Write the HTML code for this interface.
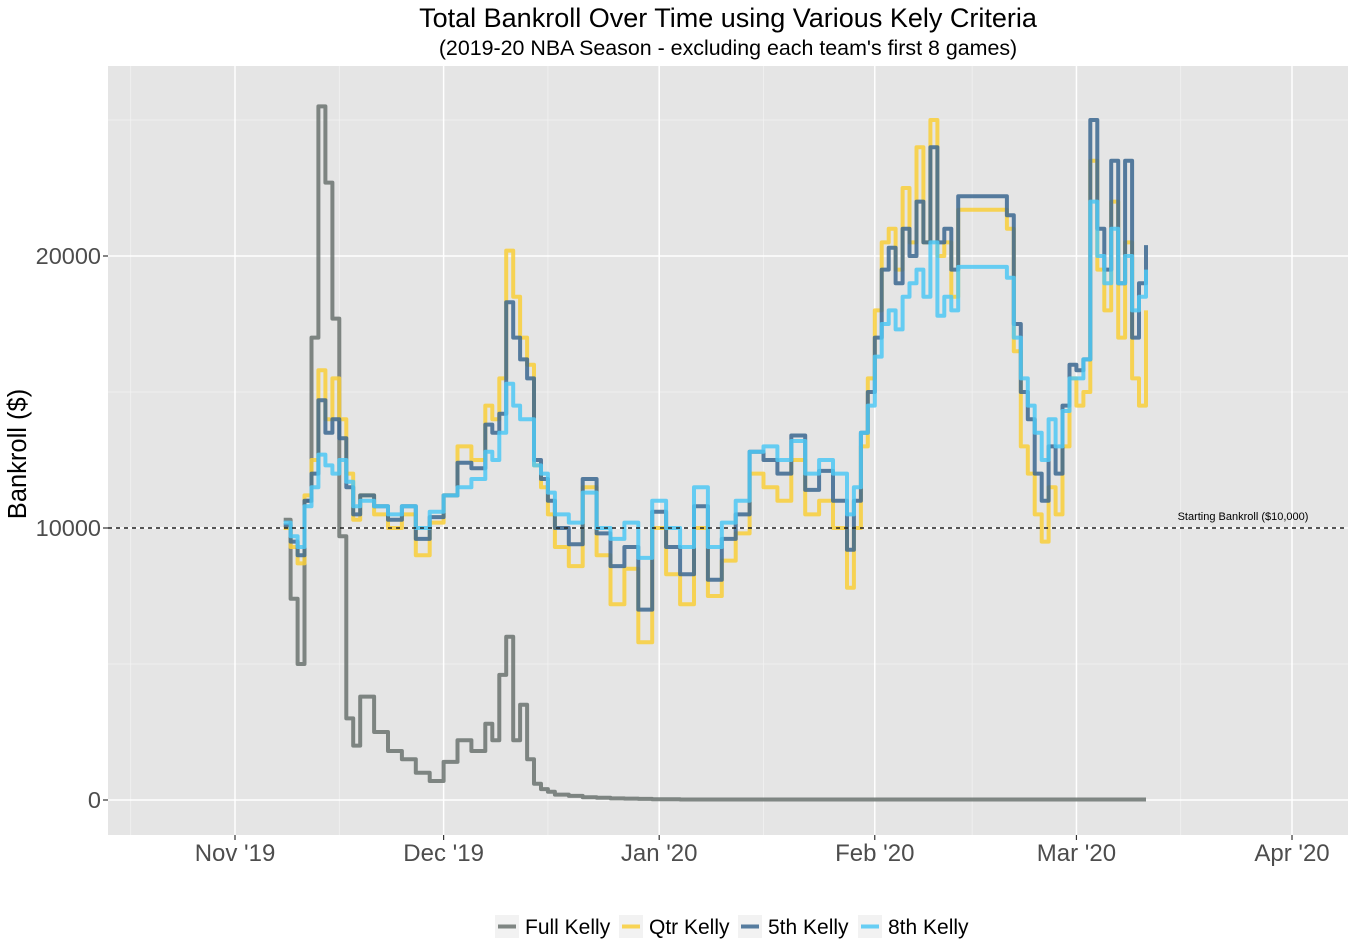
<!DOCTYPE html>
<html><head><meta charset="utf-8">
<style>
html,body{margin:0;padding:0;background:#fff;}
svg{display:block;font-family:"Liberation Sans",Arial,sans-serif;}
</style></head>
<body>
<svg id="chart" width="1356" height="952" viewBox="0 0 1356 952">
  <text x="728" y="27" text-anchor="middle" font-size="27" fill="#000">Total Bankroll Over Time using Various Kely Criteria</text>
  <text x="728" y="55" text-anchor="middle" font-size="21.4" fill="#000">(2019-20 NBA Season - excluding each team's first 8 games)</text>
  <rect x="108" y="66" width="1240" height="769" fill="#e5e5e5"/>
  <g id="grid"></g>
  <g id="series"></g>
  <line x1="108" x2="1348" y1="528" y2="528" stroke="#222" stroke-width="1.4" stroke-dasharray="4,4"/>
  <text x="1243" y="520" text-anchor="middle" font-size="11" fill="#000">Starting Bankroll ($10,000)</text>
  <g id="axes"></g>
  <text transform="translate(26,454) rotate(-90)" text-anchor="middle" font-size="25.5" fill="#000">Bankroll ($)</text>
  <g id="legend"></g>
</svg>
<script>
const days = [7,8,9,10,11,12,13,14,15,16,17,18,
20,22,24,26,28,30,32,34,36,
37,38,39,40,41,42,43,44,45,46,
48,50,52,54,56,58,60,62,64,66,68,70,72,74,76,78,80,82,84,86,88,
89,90,91,92,93,94,95,96,97,98,99,100,101,102,103,104,
111,112,113,114,115,116,117,118,119,120,121,122,123,124,125,126,127,128,129,130,131];
const fullKelly = [10.3,7.4,5.0,11.0,17.0,25.5,22.7,17.7,9.7,3.0,2.0,3.8,
2.5,1.8,1.5,1.0,0.7,1.4,2.2,1.8,2.8,
2.2,4.6,6.0,2.2,3.5,1.5,0.6,0.4,0.3,0.2,
0.15,0.1,0.08,0.06,0.05,0.04,0.03,0.03,0.02,0.02,0.02,0.02,0.02,0.02,0.02,0.02,0.02,0.02,0.02,0.02,0.02,
0.02,0.02,0.02,0.02,0.02,0.02,0.02,0.02,0.02,0.02,0.02,0.02,0.02,0.02,0.02,0.02,
0.02,0.02,0.02,0.02,0.02,0.02,0.02,0.02,0.02,0.02,0.02,0.02,0.02,0.02,0.02,0.02,0.02,0.02,0.02,0.02,0.02];
const qtrKelly = [10.0,9.3,8.7,11.2,12.5,15.8,14.0,15.5,14.0,12.0,10.3,11.2,
10.5,10.0,10.5,9.0,10.2,11.2,13.0,12.5,14.5,
14.0,15.5,20.2,18.5,17.0,16.0,12.3,11.5,10.5,9.3,
8.6,11.5,9.0,7.2,8.5,5.8,10.0,8.3,7.2,10.0,7.5,8.8,9.8,12.0,11.5,11.0,12.5,10.5,11.0,10.0,7.8,
10.0,13.0,15.5,18.0,20.5,21.0,19.5,22.5,20.5,24.0,20.5,25.0,20.0,20.5,18.5,21.7,
21.0,16.5,13.0,12.0,10.5,9.5,11.5,10.5,13.0,15.5,14.5,15.0,23.5,19.5,18.0,22.0,17.0,20.5,15.5,14.5,18.0];
const fifthKelly = [10.1,9.5,9.0,11.0,12.0,14.7,13.5,14.0,13.3,11.5,10.5,11.2,
10.8,10.3,10.8,9.6,10.4,11.2,12.4,12.2,13.8,
13.5,14.2,18.3,17.0,16.2,15.5,12.5,11.8,11.0,10.0,
9.4,11.8,9.8,8.6,9.3,7.0,10.6,9.3,8.3,10.8,8.1,9.6,10.5,12.8,12.5,12.0,13.4,11.4,12.1,11.0,9.2,
11.0,13.5,15.0,17.0,19.5,20.3,19.0,21.0,20.0,22.0,20.5,24.0,20.5,21.0,19.5,22.2,
21.5,17.5,15.0,14.0,12.0,11.0,13.0,12.0,14.5,16.0,15.8,16.2,25.0,21.0,19.5,23.5,19.0,23.5,17.0,19.0,20.4];
const eighthKelly = [10.2,9.7,9.3,10.8,11.5,12.7,12.3,12.0,12.5,11.7,10.8,11.0,
10.8,10.5,10.8,10.0,10.6,11.2,11.5,11.8,12.8,
12.5,13.5,15.3,14.5,14.0,14.0,12.3,12.0,11.3,10.5,
10.2,11.3,10.0,9.6,10.2,8.9,11.0,10.0,9.3,11.5,9.3,10.2,11.0,12.8,13.0,12.5,13.2,12.0,12.5,12.0,10.5,
11.5,13.5,14.5,16.3,17.5,18.0,17.3,18.5,19.0,19.5,18.5,20.5,17.8,18.5,18.0,19.6,
19.2,17.0,15.5,14.5,13.5,12.5,14.0,13.0,14.3,15.5,15.5,16.2,22.0,20.0,19.0,21.0,19.0,20.0,18.0,18.5,19.5];
const seriesNames = ["Full Kelly","Qtr Kelly","5th Kelly","8th Kelly"];
const seriesColors = ["#6b7370","#f9cf3a","#3b6790","#4fc8f5"];
const xTickDays = [0,30,61,92,121,152];
const xTickLabels = ["Nov '19","Dec '19","Jan '20","Feb '20","Mar '20","Apr '20"];
const xMinorDays = [-15,15,45,76,106,136];
const yTicks = [0,10,20];
const yMinor = [5,15,25];

const NS = "http://www.w3.org/2000/svg";
function xS(d){ return 235 + d*6.954; }
function yS(v){ return 800 - v*27.2; }
function mk(tag, attrs, parent){ const e=document.createElementNS(NS,tag); for(const k in attrs) e.setAttribute(k,attrs[k]); parent.appendChild(e); return e; }

const grid = document.getElementById('grid');
yMinor.forEach(v=>{ const l=mk('line',{x1:108,x2:1348,y1:yS(v),y2:yS(v),stroke:'#f2f2f2','stroke-width':0.8},grid);

 });
xMinorDays.forEach(d=>{ const l=mk('line',{x1:xS(d),x2:xS(d),y1:66,y2:835,stroke:'#f2f2f2','stroke-width':0.8},grid);

 });
yTicks.forEach(v=>{ const l=mk('line',{x1:108,x2:1348,y1:yS(v),y2:yS(v),stroke:'#fff','stroke-width':1.5},grid);

 });
xTickDays.forEach(d=>{ const l=mk('line',{x1:xS(d),x2:xS(d),y1:66,y2:835,stroke:'#fff','stroke-width':1.5},grid);

 });

const allSeries = [fullKelly,qtrKelly,fifthKelly,eighthKelly];
const sg = document.getElementById('series');
allSeries.forEach((vals,si)=>{
  let p = 'M'+xS(days[0]).toFixed(1)+','+yS(vals[0]).toFixed(1);
  for(let i=1;i<days.length;i++){
    p += ' H'+xS(days[i]).toFixed(1)+' V'+yS(vals[i]).toFixed(1);
  }
  const path = mk('path',{d:p,fill:'none',stroke:seriesColors[si],'stroke-width':4,'stroke-opacity':0.85,'stroke-linejoin':'round'},sg);
  
  
});

const ax = document.getElementById('axes');
yTicks.forEach(v=>{
  const t=mk('line',{x1:103,x2:108,y1:yS(v),y2:yS(v),stroke:'#333','stroke-width':1.2},ax);
  
  
  const tx=mk('text',{x:101,y:yS(v)+8,'text-anchor':'end','font-size':23.5,fill:'#4d4d4d'},ax);
  tx.textContent = String(v*1000);
  
  
});
xTickDays.forEach((d,i)=>{
  const t=mk('line',{x1:xS(d),x2:xS(d),y1:835,y2:840,stroke:'#333','stroke-width':1.2},ax);
  
  
  const tx=mk('text',{x:xS(d),y:861,'text-anchor':'middle','font-size':24,fill:'#4d4d4d'},ax);
  tx.textContent = xTickLabels[i];
  
  
});

const lg = document.getElementById('legend');
const keyX = [495,619,738,858];
seriesNames.forEach((n,i)=>{
  const r=mk('rect',{x:keyX[i],y:915,width:24,height:23,fill:'#f2f2f2'},lg);
  
  
  const l=mk('line',{x1:keyX[i]+3,x2:keyX[i]+21,y1:926.5,y2:926.5,stroke:seriesColors[i],'stroke-width':4,'stroke-opacity':0.85},lg);
  
  
  const t=mk('text',{x:keyX[i]+30,y:934,'font-size':21,fill:'#000'},lg);
  t.textContent=n;
  
  
});
</script>
</body></html>
